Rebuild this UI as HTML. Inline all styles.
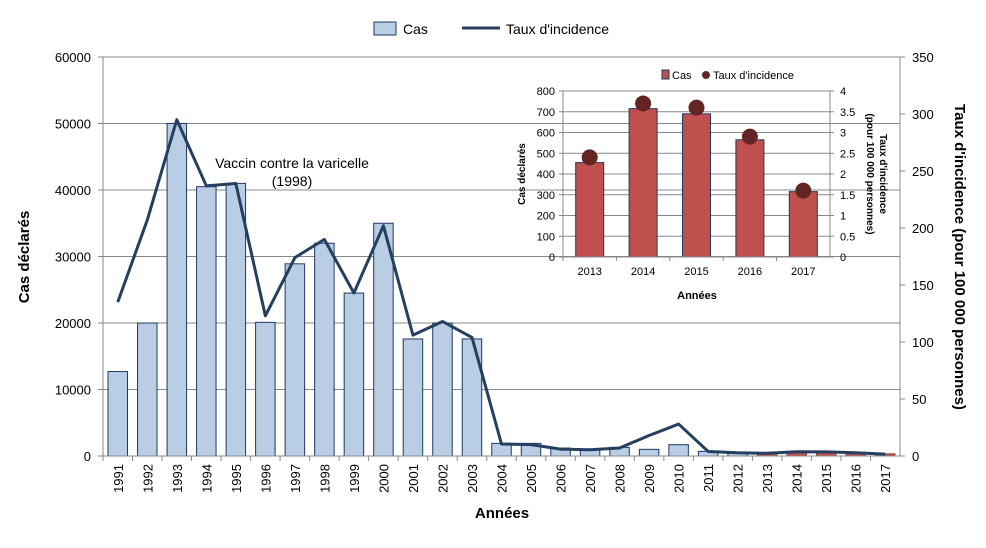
<!DOCTYPE html>
<html><head><meta charset="utf-8"><style>
body{margin:0;background:#fff;font-family:"Liberation Sans",sans-serif}
svg{display:block}
</style></head><body>
<svg id="c" width="986" height="548" xmlns="http://www.w3.org/2000/svg" font-family="Liberation Sans, sans-serif"></svg>
<script>
const years=["1991","1992","1993","1994","1995","1996","1997","1998","1999","2000","2001","2002","2003","2004","2005","2006","2007","2008","2009","2010","2011","2012","2013","2014","2015","2016","2017"];
const cases=[12700,20000,50000,40500,41000,20100,28900,32000,24500,35000,17600,20000,17600,1900,1900,1200,1000,1300,1000,1700,700,400,455,715,690,565,315];
const rates=[135,207,295,237,239,123,174,190,143,202,106,118,104,10.5,10,6,5.5,7,18,28,4,2.8,2.4,3.7,3.6,2.9,1.6];
const leftTicks=[0,10000,20000,30000,40000,50000,60000];
const rightTicks=[0,50,100,150,200,250,300,350];
const insetYears=["2013","2014","2015","2016","2017"];
const insetCases=[455,715,690,565,315];
const insetRates=[2.4,3.7,3.6,2.9,1.6];
const insetLeftTicks=[0,100,200,300,400,500,600,700,800];
const insetRightTicks=["0","0.5","1","1.5","2","2.5","3","3.5","4"];

const svg=document.getElementById('c');const NS="http://www.w3.org/2000/svg";
function mk(t,a,p,txt){const e=document.createElementNS(NS,t);for(const k in a)e.setAttribute(k,a[k]);if(txt!==undefined)e.textContent=txt;(p||svg).appendChild(e);return e;}
// main
const L=103,R=900,T=57,B=456;const cw=(R-L)/years.length;
const y=v=>B-(v/60000)*(B-T);const yr=v=>B-(v/350)*(B-T);const xc=i=>L+cw*(i+0.5);
const g=mk('g',{});
leftTicks.forEach(t=>{const l=mk('line',{x1:L,x2:R,y1:y(t),y2:y(t),stroke:'#888','stroke-width':1},g);
const tx=mk('text',{x:L-12,y:y(t)+5,'text-anchor':'end','font-size':13,fill:'#000'},g,String(t));
mk('line',{x1:L-5,x2:L,y1:y(t),y2:y(t),stroke:'#888'},g);});
rightTicks.forEach(t=>{mk('line',{x1:R,x2:R+5,y1:yr(t),y2:yr(t),stroke:'#888'},g);const tx=mk('text',{x:R+12,y:yr(t)+5,'font-size':13},g,String(t));});
cases.forEach((v,i)=>{const red=i>=22;const r=mk('rect',{x:xc(i)-cw*0.33,y:y(v),width:cw*0.66,height:B-y(v),fill:red?'#c0504d':'#b9cde5',stroke:red?'#8c3836':'#1f3864','stroke-width':1},g);});
mk('line',{x1:L,x2:L,y1:T,y2:B,stroke:'#888'},g);mk('line',{x1:R,x2:R,y1:T,y2:B,stroke:'#888'},g);mk('line',{x1:L,x2:R,y1:B,y2:B,stroke:'#888'},g);
years.forEach((yy,i)=>{mk('line',{x1:L+cw*i,x2:L+cw*i,y1:B,y2:B+5,stroke:'#888'},g);const tx=mk('text',{transform:`translate(${xc(i)+5},${B+8}) rotate(-90)`,'text-anchor':'end','font-size':13},g,yy);});
const ln=mk('polyline',{points:rates.map((v,i)=>xc(i)+','+yr(v)).join(' '),fill:'none',stroke:'#243f60','stroke-width':3,'stroke-linejoin':'round'},g);
let t;t=mk('text',{x:29,y:257,transform:'rotate(-90 29 257)','text-anchor':'middle','font-size':15,'font-weight':'bold'},g,'Cas déclarés');
t=mk('text',{x:955,y:257,transform:'rotate(90 955 257)','text-anchor':'middle','font-size':15,'font-weight':'bold'},g,"Taux d'incidence (pour 100 000 personnes)");
t=mk('text',{x:502,y:518,'text-anchor':'middle','font-size':15,'font-weight':'bold'},g,'Années');
t=mk('text',{x:292,y:168,'text-anchor':'middle','font-size':14},g,'Vaccin contre la varicelle');
t=mk('text',{x:292,y:186,'text-anchor':'middle','font-size':14},g,'(1998)');
// legend
const lg=mk('g',{});
mk('rect',{x:374,y:22,width:22,height:13,fill:'#b9cde5',stroke:'#1f3864'},lg);mk('text',{x:403,y:34,'font-size':14},lg,'Cas');
mk('line',{x1:462,x2:500,y1:28,y2:28,stroke:'#243f60','stroke-width':3},lg);mk('text',{x:506,y:34,'font-size':14},lg,"Taux d'incidence");
// inset
const iL=563,iR=830,iT=91,iB=257;const icw=(iR-iL)/5;
const iy=v=>iB-(v/800)*(iB-iT);const iyr=v=>iB-(v/4)*(iB-iT);const ix=i=>iL+icw*(i+0.5);
const ig=mk('g',{});
insetLeftTicks.forEach(tk=>{mk('line',{x1:iL,x2:iR,y1:iy(tk),y2:iy(tk),stroke:'#888'},ig);mk('line',{x1:iL-4,x2:iL,y1:iy(tk),y2:iy(tk),stroke:'#888'},ig);const tx=mk('text',{x:iL-8,y:iy(tk)+4,'text-anchor':'end','font-size':11},ig,String(tk));});
insetRightTicks.forEach((tk,i)=>{const v=i*0.5;mk('line',{x1:iR,x2:iR+4,y1:iyr(v),y2:iyr(v),stroke:'#888'},ig);const tx=mk('text',{x:iR+10,y:iyr(v)+4,'font-size':11},ig,tk);});
insetCases.forEach((v,i)=>{const r=mk('rect',{x:ix(i)-14,y:iy(v),width:28,height:iB-iy(v),fill:'#c0504d',stroke:'#1f3864'},ig);});
mk('line',{x1:iL,x2:iL,y1:iT,y2:iB,stroke:'#888'},ig);mk('line',{x1:iR,x2:iR,y1:iT,y2:iB,stroke:'#888'},ig);mk('line',{x1:iL,x2:iR,y1:iB,y2:iB,stroke:'#888'},ig);
insetYears.forEach((yy,i)=>{mk('line',{x1:iL+icw*i,x2:iL+icw*i,y1:iB,y2:iB+4,stroke:'#888'},ig);const tx=mk('text',{x:ix(i),y:iB+18,'text-anchor':'middle','font-size':11},ig,yy);});
insetRates.forEach((v,i)=>{const c=mk('circle',{cx:ix(i),cy:iyr(v),r:8,fill:'#632523'},ig);});
t=mk('text',{x:525,y:174,transform:'rotate(-90 525 174)','text-anchor':'middle','font-size':10,'font-weight':'bold'},ig,'Cas déclarés');
t=mk('text',{x:880,y:174,transform:'rotate(90 880 174)','text-anchor':'middle','font-size':10,'font-weight':'bold'},ig,"Taux d'incidence");
t=mk('text',{x:867,y:174,transform:'rotate(90 867 174)','text-anchor':'middle','font-size':10,'font-weight':'bold'},ig,"(pour 100 000 personnes)");
t=mk('text',{x:697,y:299,'text-anchor':'middle','font-size':11,'font-weight':'bold'},ig,'Années');
mk('rect',{x:662,y:70,width:7,height:9,fill:'#c0504d',stroke:'#1f3864'},ig);mk('text',{x:672,y:79,'font-size':11},ig,'Cas');
mk('circle',{cx:706,cy:75,r:4,fill:'#632523'},ig);mk('text',{x:713,y:79,'font-size':11},ig,"Taux d'incidence");
</script>
</body></html>
